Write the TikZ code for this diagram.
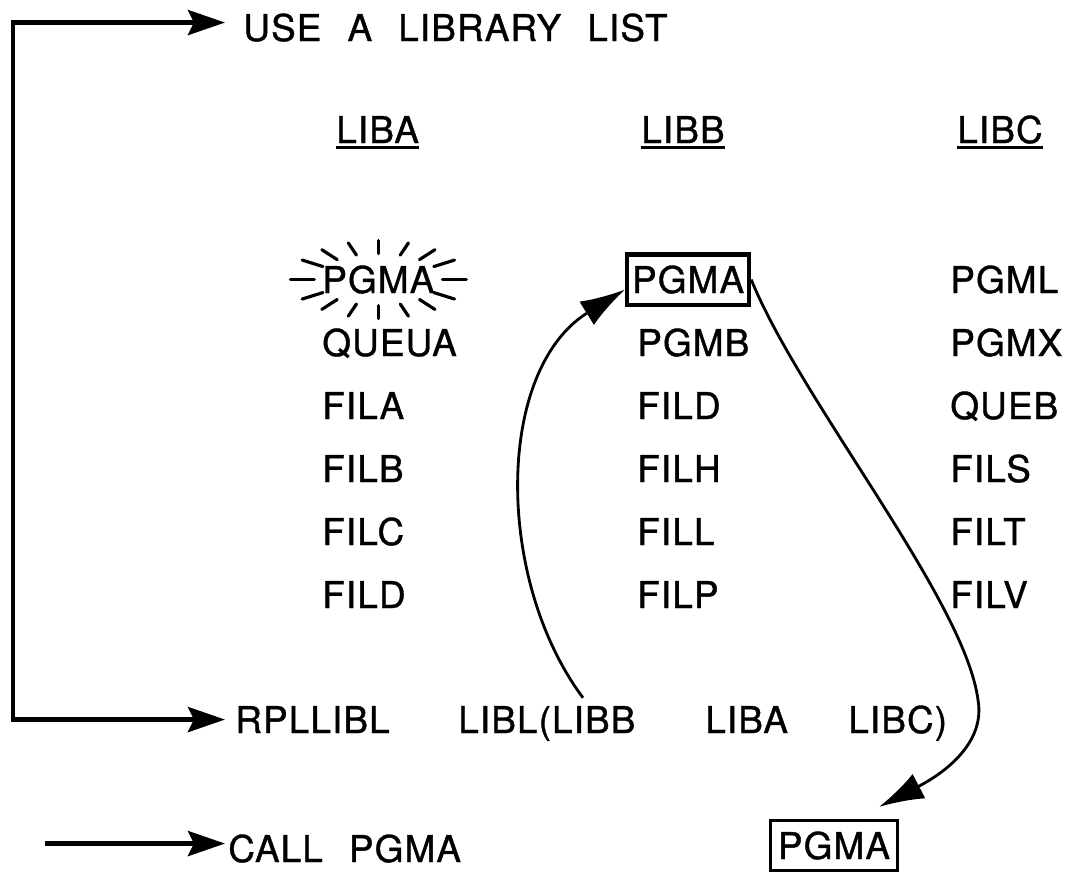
\documentclass[tikz,border=0pt]{standalone}
\usepackage{fontspec}
\setmainfont{TeX Gyre Heros}[LetterSpace=3, WordSpace=2.3, FakeBold=1]
\usetikzlibrary{arrows.meta,positioning}

\newcommand{\libhead}[1]{\setbox0=\hbox{#1}\rlap{\rule[-1.2mm]{\wd0}{1.5pt}}\box0}

\begin{document}
\begin{tikzpicture}[
    word/.style={inner sep=0pt, anchor=base west, font=\fontsize{21}{25}\selectfont},
    pick/.style={word, draw, line width=2.4pt, inner xsep=1mm, inner ysep=2.2mm},
    flow/.style={draw, line width=2.8pt},
    jump/.style={draw, line width=1.6pt, -{Latex[length=9mm,width=5.5mm]}},
    ray/.style={line width=1.8pt, line cap=round},
    >={Stealth[length=7.4mm,width=5mm,inset=1.2mm]}
  ]
  \useasboundingbox (0,0) rectangle (21.48,-17.48);

  \node[word] (USE) at (4.86,-0.82) {USE A LIBRARY LIST};

  % library headings
  \node[word] (HA) at (6.72,-2.86) {\libhead{LIBA}};
  \node[word] (HB) at (12.82,-2.86) {\libhead{LIBB}};
  \node[word] (HC) at (19.14,-2.86) {\libhead{LIBC}};

  % LIBA
  \node[word] (A1) at (6.44,-5.86)  {PGMA};
  \node[word] (A2) at (6.44,-7.12)  {QUEUA};
  \node[word] (A3) at (6.44,-8.38)  {FILA};
  \node[word] (A4) at (6.44,-9.64)  {FILB};
  \node[word] (A5) at (6.44,-10.90) {FILC};
  \node[word] (A6) at (6.44,-12.16) {FILD};

  % LIBB
  \node[pick] (B1) at (12.5,-5.86)  {PGMA};
  \node[word] (B2) at (12.74,-7.12) {PGMB};
  \node[word] (B3) at (12.74,-8.38) {FILD};
  \node[word] (B4) at (12.74,-9.64) {FILH};
  \node[word] (B5) at (12.74,-10.90) {FILL};
  \node[word] (B6) at (12.74,-12.16) {FILP};

  % LIBC
  \node[word] (C1) at (19.0,-5.86)  {PGML};
  \node[word] (C2) at (19.0,-7.12)  {PGMX};
  \node[word] (C3) at (19.0,-8.38)  {QUEB};
  \node[word] (C4) at (19.0,-9.64)  {FILS};
  \node[word] (C5) at (19.0,-10.90) {FILT};
  \node[word] (C6) at (19.0,-12.16) {FILV};

  % command lines
  \node[word] (RPL)  at (4.7,-14.66)  {RPLLIBL};
  \node[word] (LB)   at (9.16,-14.66) {LIBL(LIBB};
  \node[word] (LA)   at (14.1,-14.66) {LIBA};
  \node[word] (LC)   at (16.96,-14.66) {LIBC)};
  \node[word] (CALL) at (4.56,-17.24) {CALL PGMA};
  \node[pick, line width=1.7pt, inner xsep=1.5mm, inner ysep=2.2mm] (FOUND) at (15.38,-17.18) {PGMA};

  % burst round the hidden PGMA
  \foreach \a in {0,30,50,70,90,110,130,150,180,210,230,250,270,290,310,330}
    \draw[ray] ([shift={(\a:1.28 and 0.52)}]A1.center) -- ([shift={(\a:1.76 and 0.78)}]A1.center);

  \coordinate (EDGE) at (0.26,0);
  \coordinate (CALLSRC) at (0.9,0);
  \draw[flow, <->, shorten <=3.6mm, shorten >=2mm] ([yshift=1mm]USE.west) -| (EDGE |- RPL.west) -- (RPL.west);
  \draw[flow, ->, shorten >=0.6mm] ([yshift=1mm]CALLSRC |- CALL.west) -- ([yshift=1mm]CALL.west);

  \draw[jump] ([xshift=2.5cm, yshift=1.6mm]LB.north west) .. controls (9.9,-11.6) and (9.9,-7.4) .. ([yshift=-2mm]B1.west);
  \draw[jump] (B1.east) .. controls (16,-8) and (19.3,-12) .. (19.56,-14)
    .. controls (19.7,-14.8) and (19,-15.4) .. ([shift={(0.9,0.24)}]FOUND.north);
\end{tikzpicture}
\end{document}
